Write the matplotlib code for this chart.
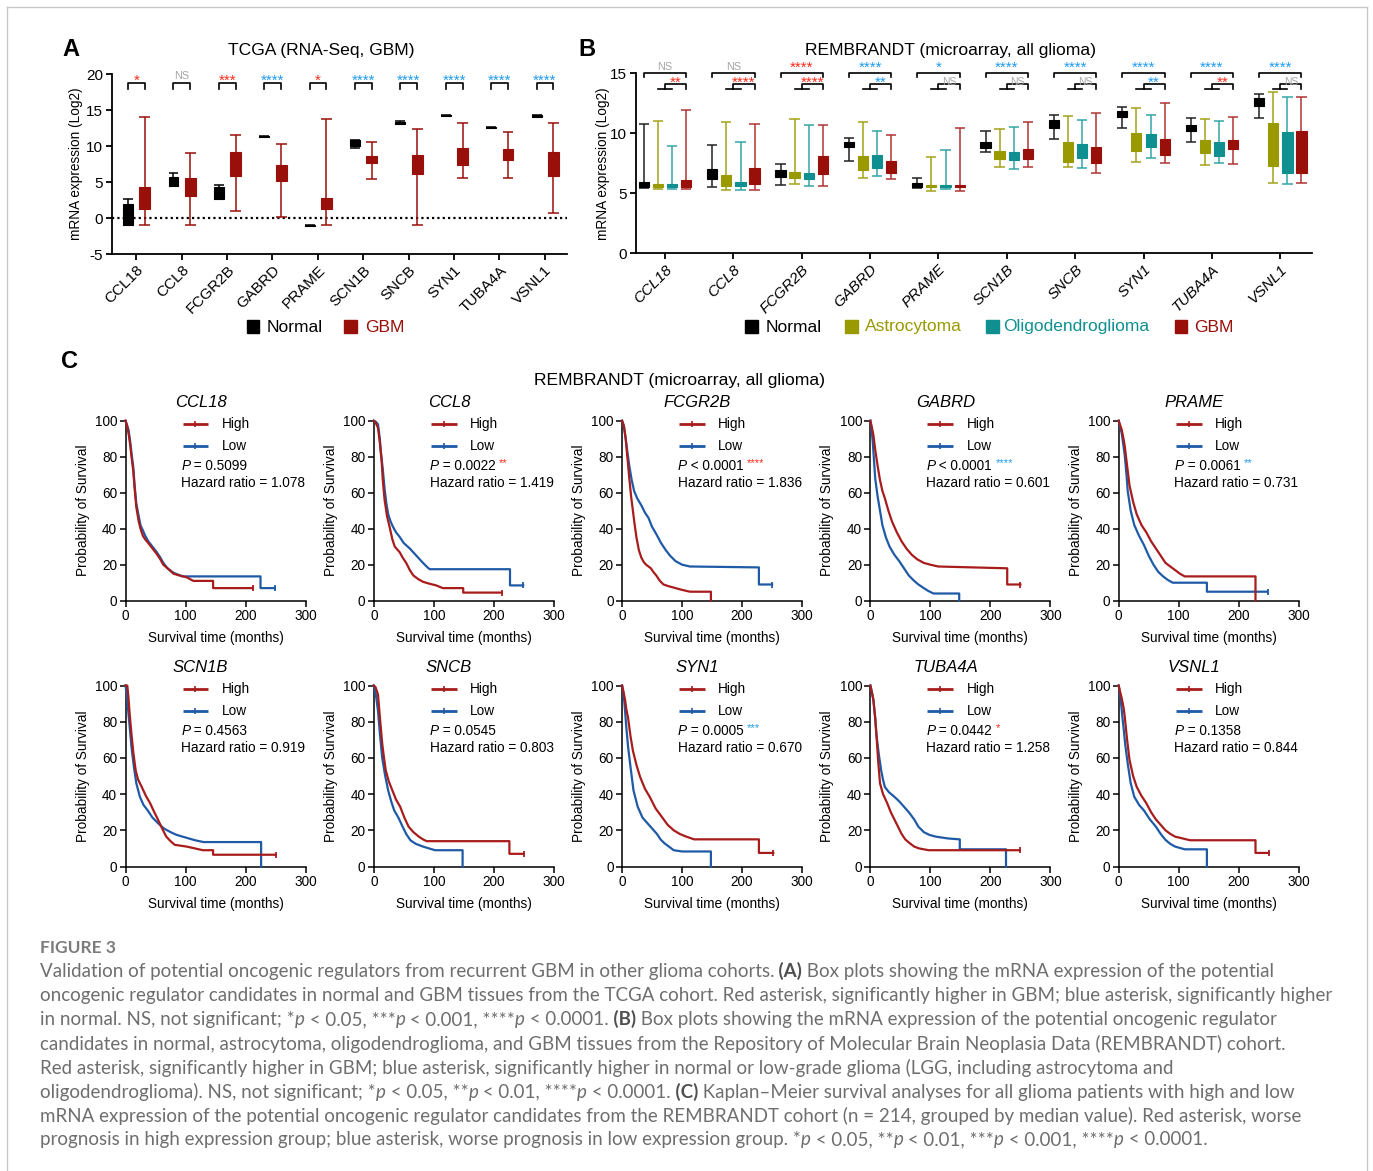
import re

import matplotlib
matplotlib.use("Agg")
import matplotlib.pyplot as plt
import numpy as np
from matplotlib.patches import Rectangle


W, H = 1373, 1171

GENES = ["CCL18", "CCL8", "FCGR2B", "GABRD", "PRAME", "SCN1B", "SNCB", "SYN1", "TUBA4A", "VSNL1"]

# panel A (TCGA): (min, q1, q3, max) per gene
A_NORMAL = [(-1.0, -1.0, 2.0, 2.7), (4.4, 4.45, 5.7, 6.25), (2.6, 2.7, 4.3, 4.6), (11.2, 11.2, 11.4, 11.4),
            (-1.05, -1.05, -0.95, -0.95), (9.7, 10.0, 10.8, 10.9), (13.1, 13.1, 13.4, 13.45),
            (14.1, 14.1, 14.25, 14.25), (12.45, 12.45, 12.6, 12.65), (14.0, 14.0, 14.3, 14.3)]
A_GBM = [(-1.0, 1.2, 4.3, 14.0), (-1.0, 3.05, 5.5, 9.0), (1.0, 5.9, 9.1, 11.5), (0.2, 5.1, 7.4, 10.3),
         (-1.0, 1.3, 2.8, 13.8), (5.4, 7.6, 8.6, 10.5), (-1.0, 6.1, 8.8, 12.3), (5.6, 7.4, 9.7, 13.2),
         (5.5, 8.1, 9.6, 12.0), (0.7, 5.9, 9.1, 13.2)]
A_SIG = ["*", "NS", "***", "****", "*", "****", "****", "****", "****", "****"]
A_HIGHER = ["GBM", "", "GBM", "Normal", "GBM", "Normal", "Normal", "Normal", "Normal", "Normal"]

# panel B (REMBRANDT): (min, q1, q3, max) per gene
B_NORMAL = [(5.42, 5.56, 5.92, 10.75), (5.56, 6.19, 7.03, 9.03), (5.69, 6.33, 6.94, 7.42), (7.72, 8.83, 9.3, 9.64),
            (5.42, 5.56, 5.89, 6.25), (8.42, 8.8, 9.3, 10.22), (9.5, 10.47, 11.11, 11.5), (10.47, 11.33, 11.86, 12.17),
            (9.25, 10.22, 10.69, 11.25), (11.31, 12.31, 12.92, 13.28)]
B_ASTRO = [(5.36, 5.5, 5.78, 11.06), (5.28, 5.64, 6.53, 10.9), (5.75, 6.25, 6.8, 11.17), (6.28, 6.94, 8.1, 10.94),
           (5.19, 5.56, 5.69, 8.06), (7.17, 7.83, 8.56, 10.36), (7.17, 7.64, 9.3, 11.47), (7.64, 8.53, 10.06, 12.08),
           (7.36, 8.39, 9.44, 11.17), (5.89, 7.28, 10.83, 13.42)]
B_OLIGO = [(5.36, 5.5, 5.75, 8.9), (5.28, 5.61, 5.94, 9.25), (5.61, 6.19, 6.67, 10.7), (6.44, 7.08, 8.19, 10.19),
           (5.36, 5.53, 5.69, 8.61), (7.0, 7.78, 8.42, 10.56), (7.14, 7.92, 9.11, 11.11), (7.97, 8.83, 9.92, 11.5),
           (7.5, 8.11, 9.25, 11.06), (5.78, 6.72, 10.08, 13.0)]
B_GBM = [(5.33, 5.56, 6.1, 11.9), (5.28, 5.78, 7.08, 10.78), (5.61, 6.58, 8.1, 10.7), (6.19, 6.72, 7.72, 9.86),
         (5.22, 5.53, 5.69, 10.42), (7.17, 7.83, 8.69, 10.97), (6.72, 7.5, 8.83, 11.67), (7.5, 8.19, 9.5, 12.5),
         (7.44, 8.67, 9.44, 11.39), (5.89, 6.67, 10.19, 13.06)]
B_SIG_ALL = ["NS", "NS", "****", "****", "*", "****", "****", "****", "****", "****"]
B_HIGHER_ALL = ["", "", "GBM", "Normal", "Normal", "Normal", "Normal", "Normal", "Normal", "Normal"]
B_SIG_LGG = ["**", "****", "****", "**", "NS", "NS", "NS", "**", "**", "NS"]
B_HIGHER_LGG = ["GBM", "GBM", "GBM", "LGG", "", "", "", "LGG", "GBM", ""]

# panel C: Kaplan-Meier curves, (months, % surviving)
CCL18_HIGH = [(0, 100), (2, 98), (4, 95), (6, 91), (8, 86), (10, 80), (13, 72), (15, 63), (18, 52), (22, 44),
              (25, 40), (29, 36), (33, 34), (38, 32), (45, 29), (52, 26), (58, 23), (63, 20), (70, 18), (80, 15),
              (90, 14), (102, 13), (113, 11), (146, 11), (146, 7), (212, 7)]
CCL18_LOW = [(0, 100), (2, 98), (5, 95), (8, 88), (10, 82), (13, 74), (15, 65), (18, 54), (22, 47), (25, 42),
             (29, 39), (33, 36), (38, 33), (45, 30), (52, 27), (58, 24), (63, 21), (70, 18), (80, 15.5), (95, 13.5),
             (225, 13.5), (225, 7), (249, 7)]
CCL8_HIGH = [(0, 100), (3, 99), (7, 96), (10, 88), (13, 78), (15, 67), (18, 56), (22, 47), (27, 40), (31, 34),
             (35, 30), (43, 27), (48, 24), (54, 21), (60, 17), (66, 14), (74, 12), (82, 10.5), (92, 9.5),
             (104, 8.5), (115, 7), (149, 7), (149, 4.5), (213, 4.5)]
CCL8_LOW = [(0, 100), (3, 99.5), (7, 98), (10, 90), (12, 82), (15, 73), (18, 62), (21, 54), (24, 48), (28, 44),
            (32, 41), (37, 38), (43, 35.5), (50, 32), (60, 29), (71, 25), (82, 21), (88, 19), (93, 17.5),
            (227, 17.5), (227, 8.5), (249, 8.5)]
FCGR2B_HIGH = [(0, 100), (3, 97), (6, 90), (9, 79), (12, 68), (15, 58), (18, 50), (21, 42), (24, 35), (28, 28),
               (32, 24), (36, 21.5), (40, 20), (48, 18), (52, 16), (57, 14), (63, 11), (69, 9), (78, 8), (89, 7),
               (100, 6), (113, 5), (148, 5), (148, 0)]
FCGR2B_LOW = [(0, 100), (3, 97), (6, 90), (9, 82), (12, 75), (16, 67), (20, 61), (25, 57), (32, 53), (38, 49),
              (44, 46), (50, 41), (57, 37), (65, 32), (73, 28), (80, 25), (89, 22), (100, 20), (113, 19),
              (228, 18.5), (228, 9), (250, 9)]
GABRD_HIGH = [(0, 100), (2, 97), (5, 92), (8, 84), (12, 75), (16, 67), (20, 61), (24, 57), (30, 50), (36, 44),
              (44, 38), (52, 33), (60, 29), (69, 25.5), (78, 23), (89, 21), (100, 20), (113, 19), (228, 18),
              (228, 9), (250, 9)]
GABRD_LOW = [(0, 100), (2, 95), (4, 88), (6, 78), (8, 68), (12, 58), (16, 50), (20, 42), (26, 35), (32, 30),
             (40, 25.5), (48, 22), (56, 18), (64, 14), (73, 11), (80, 9), (89, 7), (96, 5.5), (105, 4), (148, 4),
             (148, 0)]
PRAME_HIGH = [(0, 100), (2, 98), (5, 95), (8, 90), (10, 86), (14, 75), (18, 64), (24, 55), (30, 48), (38, 42),
              (46, 38), (54, 33), (62, 29), (70, 25), (78, 21), (86, 19), (94, 17), (102, 15), (110, 13.5),
              (228, 13.5), (228, 0)]
PRAME_LOW = [(0, 100), (2, 97), (5, 93), (8, 86), (10, 81), (13, 70), (15, 61), (20, 50), (26, 42), (34, 36),
             (42, 31), (50, 25), (58, 20), (66, 16), (74, 13.5), (82, 11.5), (90, 10), (147, 10), (147, 5),
             (248, 5)]
SCN1B_HIGH = [(0, 100), (3, 100), (5, 93), (7, 84), (10, 73), (13, 63), (17, 53), (21, 48), (27, 44), (34, 39),
              (41, 35), (48, 30), (54, 26), (61, 21), (68, 16.5), (75, 14), (82, 12), (92, 11.5), (102, 11),
              (129, 9), (146, 9), (146, 6.5), (250, 6.5)]
SCN1B_LOW = [(0, 100), (2, 95), (4, 88), (7, 77), (10, 66), (14, 55), (18, 46), (24, 38.5), (30, 34), (37, 31),
             (45, 27), (54, 24), (64, 21), (75, 19), (85, 17.5), (95, 16.5), (116, 14.5), (130, 13.5), (226, 13.5),
             (226, 0)]
SNCB_HIGH = [(0, 100), (3, 99), (7, 95), (10, 83), (14, 68), (17, 60), (20, 53), (25, 47), (31, 42), (37, 37),
             (44, 33), (51, 27), (58, 22), (66, 19), (75, 16.5), (82, 15), (88, 14), (226, 14), (226, 7), (250, 7)]
SNCB_LOW = [(0, 100), (3, 96), (7, 86), (10, 74), (14, 60), (19, 50), (24, 42), (29, 36), (34, 31), (41, 27),
            (48, 22), (54, 18), (61, 14.5), (70, 12.5), (82, 11), (92, 10), (102, 9), (148, 9), (148, 0)]
SYN1_HIGH = [(0, 100), (2, 97), (5, 92), (7, 87), (10, 82), (14, 72), (18, 64), (24, 56), (30, 49.5), (38, 43),
             (46, 38.5), (56, 32), (66, 27.5), (76, 23), (86, 20), (96, 18), (107, 16.5), (120, 15), (228, 15),
             (228, 7.5), (252, 7.5)]
SYN1_LOW = [(0, 100), (2, 96), (4, 90), (7, 77), (10, 66), (14, 55), (19, 42), (26, 33), (34, 27), (42, 24),
            (50, 21), (58, 18), (64, 15), (70, 13), (78, 11), (86, 9), (100, 8.3), (148, 8.3), (148, 0)]
TUBA4A_HIGH = [(0, 100), (2, 97), (5, 92), (8, 82), (10, 73), (13, 58), (16, 46), (21, 40), (28, 35), (34, 30),
               (40, 26), (46, 22), (52, 18), (58, 15), (65, 13), (73, 11), (81, 10), (97, 9), (249, 9)]
TUBA4A_LOW = [(0, 100), (2, 97), (5, 92), (8, 82), (10, 73), (14, 62), (18, 53), (21, 48), (24, 44), (31, 41),
              (40, 38.5), (48, 36), (56, 33), (64, 30), (73, 26), (80, 22), (89, 19), (98, 17.5), (109, 16.5),
              (129, 15.5), (149, 15), (149, 9.5), (226, 9.5), (226, 0)]
VSNL1_HIGH = [(0, 100), (2, 97), (5, 93), (8, 88), (10, 83), (14, 70), (18, 59), (24, 50), (30, 44), (38, 39),
              (46, 35), (54, 30), (62, 26), (70, 23), (78, 20), (86, 18), (94, 16.5), (119, 14.5), (228, 14.5),
              (228, 7.5), (250, 7.5)]
VSNL1_LOW = [(0, 100), (2, 96), (4, 90), (6, 83), (8, 77), (11, 67), (15, 57), (20, 46), (26, 38.5), (34, 34),
             (42, 31), (52, 26), (62, 22), (70, 18), (78, 14.7), (86, 12.5), (94, 11), (110, 9.5), (147, 9.5),
             (147, 0)]

KM_HIGH = [CCL18_HIGH, CCL8_HIGH, FCGR2B_HIGH, GABRD_HIGH, PRAME_HIGH,
           SCN1B_HIGH, SNCB_HIGH, SYN1_HIGH, TUBA4A_HIGH, VSNL1_HIGH]
KM_LOW = [CCL18_LOW, CCL8_LOW, FCGR2B_LOW, GABRD_LOW, PRAME_LOW,
          SCN1B_LOW, SNCB_LOW, SYN1_LOW, TUBA4A_LOW, VSNL1_LOW]
KM_P = ["= 0.5099", "= 0.0022", "< 0.0001", "< 0.0001", "= 0.0061",
        "= 0.4563", "= 0.0545", "= 0.0005", "= 0.0442", "= 0.1358"]
KM_SIG = ["", "**", "****", "****", "**", "", "", "***", "*", ""]
KM_WORSE = ["", "High", "High", "Low", "Low", "", "", "Low", "High", ""]
KM_HR = ["1.078", "1.419", "1.836", "0.601", "0.731", "0.919", "0.803", "0.670", "1.258", "0.844"]

CAPTION = [
    "Validation of potential oncogenic regulators from recurrent GBM in other glioma cohorts. [b](A)[/b] Box plots showing the mRNA expression of the potential",
    "oncogenic regulator candidates in normal and GBM tissues from the TCGA cohort. Red asterisk, significantly higher in GBM; blue asterisk, significantly higher",
    "in normal. NS, not significant; *[i]p[/i] < 0.05, ***[i]p[/i] < 0.001, ****[i]p[/i] < 0.0001. [b](B)[/b] Box plots showing the mRNA expression of the potential oncogenic regulator",
    "candidates in normal, astrocytoma, oligodendroglioma, and GBM tissues from the Repository of Molecular Brain Neoplasia Data (REMBRANDT) cohort.",
    "Red asterisk, significantly higher in GBM; blue asterisk, significantly higher in normal or low-grade glioma (LGG, including astrocytoma and",
    "oligodendroglioma). NS, not significant; *[i]p[/i] < 0.05, **[i]p[/i] < 0.01, ****[i]p[/i] < 0.0001. [b](C)[/b] Kaplan\u2013Meier survival analyses for all glioma patients with high and low",
    "mRNA expression of the potential oncogenic regulator candidates from the REMBRANDT cohort (n = 214, grouped by median value). Red asterisk, worse",
    "prognosis in high expression group; blue asterisk, worse prognosis in low expression group. *[i]p[/i] < 0.05, **[i]p[/i] < 0.01, ***[i]p[/i] < 0.001, ****[i]p[/i] < 0.0001.",
]

GBM_RED = "#990f0a"
ASTRO = "#999900"
OLIGO = "#0f8f8f"
STAR_RED = "#ff2a1a"
STAR_BLUE = "#1e9bf0"
NS_GRAY = "#a6a6a6"
KM_RED = "#a81c1c"
KM_BLUE = "#1f5aa6"

plt.rcParams["font.family"] = ["Liberation Sans", "DejaVu Sans"]
plt.rcParams["axes.linewidth"] = 1.3
plt.rcParams["axes.unicode_minus"] = False


def px_axes(fig, left, top, right, bottom):
    return fig.add_axes([left / W, 1 - bottom / H, (right - left) / W, (bottom - top) / H])


def sig_color(higher):
    if not higher:
        return NS_GRAY
    return STAR_RED if higher == "GBM" else STAR_BLUE


def draw_boxes(ax, pos, stats, width, face, line):
    for x, (lo, q1, q3, hi) in zip(pos, stats):
        ax.vlines(x, lo, hi, color=line, lw=1.1, zorder=2)
        ax.hlines([lo, hi], x - width / 2, x + width / 2, color=line, lw=1.1, zorder=2)
        ax.bar(x, q3 - q1, width, bottom=q1, color=face, edgecolor=face, lw=0.8, zorder=3)


def sig_label(ax, x, y_star, y_ns, label, color, ns_size=7.8):
    if label == "NS":
        ax.text(x, y_ns, "NS", color=NS_GRAY, fontsize=ns_size, ha="center", va="baseline", clip_on=False)
    else:
        ax.text(x, y_star, label, color=color, fontsize=11, ha="center", va="baseline", clip_on=False)


def style_box_axis(ax):
    for side in ["top", "right"]:
        ax.spines[side].set_visible(False)
    ax.tick_params(direction="out", length=4.5, width=1.3, labelsize=11, pad=2)


def split_runs(line):
    runs = []
    for tok in re.split(r"(\[b\].*?\[/b\]|\[i\].*?\[/i\])", line):
        if not tok:
            continue
        if tok.startswith("[b]"):
            runs.append([tok[3:-4], {"weight": "bold", "color": "#505050"}])
        elif tok.startswith("[i]"):
            runs.append([tok[3:-4], {"style": "italic"}])
        else:
            runs.append([tok, {}])
    # move trailing spaces to the start of the next run so widths are kept
    for i in range(len(runs) - 1):
        stripped = runs[i][0].rstrip(" ")
        n = len(runs[i][0]) - len(stripped)
        if n:
            runs[i][0] = stripped
            runs[i + 1][0] = " " * n + runs[i + 1][0]
    return runs


fig = plt.figure(figsize=(W / 100, H / 100), dpi=100)
bg = fig.add_axes([0, 0, 1, 1])
bg.set_xlim(0, W)
bg.set_ylim(H, 0)
bg.axis("off")

# page frame
frame = dict(color="#c8c8c8", lw=1.0, clip_on=False)
bg.plot([6.5, 1366.5], [6.5, 6.5], **frame)
bg.plot([6.5, 6.5], [6.5, H], **frame)
bg.plot([1366.5, 1366.5], [6.5, H], **frame)

# ---------------- panel A ----------------
bg.text(71, 50, "A", fontsize=17, weight="bold", ha="center", va="center")
bg.text(321, 51, "TCGA (RNA-Seq, GBM)", fontsize=12.6, ha="center", va="center")

axA = px_axes(fig, 112, 74, 567, 254)
xs = np.arange(len(GENES))
axA.set_xlim(-0.535, 9.49)
axA.set_ylim(-5, 20)
axA.axhline(0, color="black", lw=1.6, ls=(0, (1, 1.4)), zorder=1)
draw_boxes(axA, xs - 0.18, A_NORMAL, 0.22, "black", "black")
draw_boxes(axA, xs + 0.19, A_GBM, 0.24, GBM_RED, GBM_RED)
style_box_axis(axA)
axA.set_yticks([-5, 0, 5, 10, 15, 20])
axA.set_xticks(xs)
axA.set_xticklabels(GENES, rotation=45, ha="right", rotation_mode="anchor")
axA.set_ylabel("mRNA expression (Log2)", fontsize=9.8)
axA.yaxis.set_label_coords(-0.063, 0.5)
for i in range(len(GENES)):
    x1, x2 = i - 0.18, i + 0.19
    axA.plot([x1, x1, x2, x2], [17.9, 18.8, 18.8, 17.9], color="black", lw=1.2)
    sig_label(axA, (x1 + x2) / 2, 18.45, 19.3, A_SIG[i], sig_color(A_HIGHER[i]))

bg.add_patch(Rectangle((246.7, 320), 12.6, 13, color="black"))
bg.text(266.7, 327, "Normal", fontsize=12.5, va="center")
bg.add_patch(Rectangle((344, 320), 13.4, 13, color=GBM_RED))
bg.text(365, 327, "GBM", fontsize=12.5, va="center", color=GBM_RED)

# ---------------- panel B ----------------
bg.text(587, 50, "B", fontsize=17, weight="bold", ha="center", va="center")
bg.text(951, 51, "REMBRANDT (microarray, all glioma)", fontsize=12.6, ha="center", va="center")

axB = px_axes(fig, 636, 73.3, 1311.7, 253.3)
axB.set_xlim(-0.424, 9.46)
axB.set_ylim(0, 15)
offs = [-0.31, -0.105, 0.105, 0.31]
draw_boxes(axB, xs + offs[0], B_NORMAL, 0.15, "black", "#222222")
draw_boxes(axB, xs + offs[1], B_ASTRO, 0.15, ASTRO, "#a3a31a")
draw_boxes(axB, xs + offs[2], B_OLIGO, 0.15, OLIGO, "#33a6a6")
draw_boxes(axB, xs + offs[3], B_GBM, 0.15, GBM_RED, "#b03333")
style_box_axis(axB)
axB.set_yticks([0, 5, 10, 15])
axB.set_xticks(xs)
axB.set_xticklabels(GENES, rotation=45, ha="right", rotation_mode="anchor", style="italic")
axB.set_ylabel("mRNA expression (Log2)", fontsize=9.8)
axB.yaxis.set_label_coords(-0.039, 0.5)
for i in range(len(GENES)):
    xn, xa, xo, xg = (i + o for o in offs)
    xm = (xa + xo) / 2
    br = dict(color="black", lw=1.2, clip_on=False)
    axB.plot([xn, xn, xg, xg], [14.67, 15.06, 15.06, 14.67], **br)
    axB.plot([xa, xo], [13.67, 13.67], **br)
    axB.plot([xm, xm, xg, xg], [13.67, 14.11, 14.11, 13.67], **br)
    sig_label(axB, (xn + xg) / 2, 15.1, 15.28, B_SIG_ALL[i], sig_color(B_HIGHER_ALL[i]))
    sig_label(axB, (xm + xg) / 2, 13.85, 14.05, B_SIG_LGG[i], sig_color(B_HIGHER_LGG[i]), ns_size=7.5)

legend_b = [("Normal", "black", 745, 766), ("Astrocytoma", ASTRO, 845, 864.7),
            ("Oligodendroglioma", OLIGO, 986, 1003), ("GBM", GBM_RED, 1174.6, 1194)]
for name, col, sx, tx in legend_b:
    bg.add_patch(Rectangle((sx, 320), 12.6, 13, color=col))
    bg.text(tx, 327, name, fontsize=12.5, va="center", color=col)

# ---------------- panel C ----------------
bg.text(70, 362, "C", fontsize=17, weight="bold", ha="center", va="center")
bg.text(680, 381, "REMBRANDT (microarray, all glioma)", fontsize=12.6, ha="center", va="center")

for k, gene in enumerate(GENES):
    row, col = divmod(k, 5)
    left = 125.5 + 248.3 * col
    top, bottom = (420.7, 600.7) if row == 0 else (685.5, 866.5)
    ax = px_axes(fig, left, top, left + 180, bottom)
    ax.set_xlim(0, 300)
    ax.set_ylim(0, 100)
    for pts, col_ in [(KM_LOW[k], KM_BLUE), (KM_HIGH[k], KM_RED)]:
        arr = np.array(pts, dtype=float)
        ax.plot(arr[:, 0], arr[:, 1], color=col_, lw=1.6, clip_on=False, zorder=3)
        if arr[-1, 1] > 0:
            ax.plot(arr[-1, 0], arr[-1, 1], marker="|", ms=5, mew=1.3, color=col_, clip_on=False, zorder=3)
    for spine in ["top", "right"]:
        ax.spines[spine].set_visible(False)
    ax.spines["left"].set_linewidth(1.1)
    ax.spines["bottom"].set_linewidth(1.1)
    ax.set_xticks([0, 100, 200, 300])
    ax.set_yticks([0, 20, 40, 60, 80, 100])
    ax.tick_params(direction="out", length=4, width=1.1, labelsize=9.8, pad=2)
    ax.set_xlabel("Survival time (months)", fontsize=9.8)
    ax.set_ylabel("Probability of Survival", fontsize=9.8)
    ax.xaxis.set_label_coords(0.5, -0.166)
    ax.yaxis.set_label_coords(-0.2, 0.5)
    ax.text(0.417, 1.1, gene, transform=ax.transAxes, fontsize=12, style="italic", ha="center", va="center")

    for yy, lab, col_ in [(98, "High", KM_RED), (86, "Low", KM_BLUE)]:
        ax.plot([95, 138], [yy, yy], color=col_, lw=2, clip_on=False, solid_capstyle="butt")
        ax.plot(116.5, yy, marker="|", ms=4, mew=1.2, color=col_, clip_on=False)
        ax.text(160, yy, lab, fontsize=9.8, va="center")
    ptxt = ax.text(93, 75, "P", fontsize=9.8, style="italic", va="center")
    last = ax.annotate(" " + KM_P[k], xy=(1, 0), xycoords=ptxt, xytext=(0, 0), textcoords="offset points",
                       ha="left", va="bottom", fontsize=9.8, annotation_clip=False)
    if KM_SIG[k]:
        scol = STAR_RED if KM_WORSE[k] == "High" else STAR_BLUE
        ax.annotate(KM_SIG[k], xy=(1, 0.3), xycoords=last, xytext=(2.5, 0), textcoords="offset points",
                    ha="left", va="bottom", fontsize=8, color=scol, annotation_clip=False)
    ax.text(93, 65.5, "Hazard ratio = " + KM_HR[k], fontsize=9.8, va="center")

# ---------------- caption ----------------
cap_font = dict(family=["Lato", "DejaVu Sans"], color="#6e6e6e")
bg.text(40, 948, "FIGURE 3", fontsize=12.5, va="center", family=["Lato", "DejaVu Sans"],
        color="#7c7c7c", weight="bold")

renderer = fig.canvas.get_renderer()
probe = bg.text(40, 996, CAPTION[1], fontsize=12, **cap_font)
probe_w = probe.get_window_extent(renderer=renderer).width
probe.remove()
cap_size = 12 * 1285 / probe_w

for j, line in enumerate(CAPTION):
    y = 972 + 23.95 * j
    runs = split_runs(line)
    prev = bg.text(40, y, runs[0][0], fontsize=cap_size, va="center", **{**cap_font, **runs[0][1]})
    for s, extra in runs[1:]:
        prev = bg.annotate(s, xy=(1, 0), xycoords=prev, xytext=(0, 0), textcoords="offset points",
                           ha="left", va="bottom", fontsize=cap_size, annotation_clip=False,
                           **{**cap_font, **extra})

fig.savefig("out.png", dpi=100)
